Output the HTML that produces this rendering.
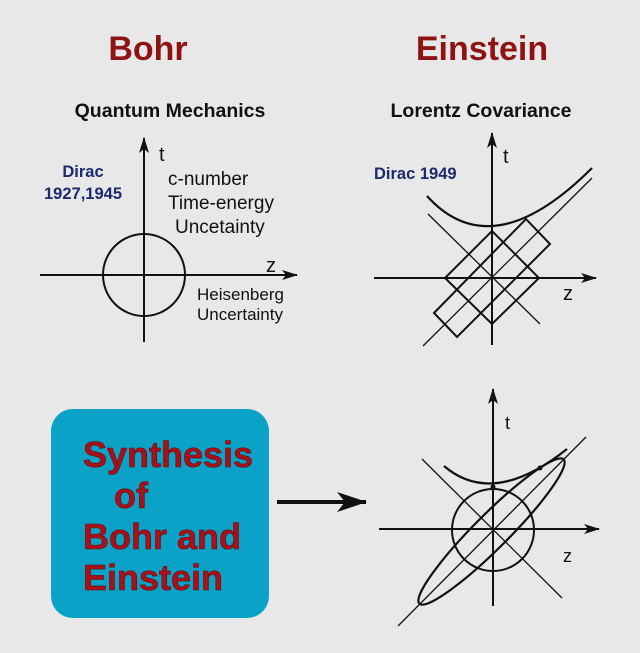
<!DOCTYPE html>
<html><head><meta charset="utf-8"><style>
html,body{margin:0;padding:0;background:#e8e8e8;}
</style></head><body>
<svg width="640" height="648" viewBox="0 0 640 648" xmlns="http://www.w3.org/2000/svg" font-family="Liberation Sans, sans-serif">
<defs><marker id="ah" markerWidth="16" markerHeight="10" refX="15" refY="5" orient="auto" markerUnits="userSpaceOnUse"><path d="M0,0 L16,5 L0,10 L4,5 Z" fill="#111"/></marker>
<marker id="ah2" markerWidth="30" markerHeight="20" refX="29" refY="10" orient="auto" markerUnits="userSpaceOnUse"><path d="M0,0 L30,10 L0,20 L8,10 Z" fill="#111"/></marker></defs>
<rect width="640" height="648" fill="#e8e8e8"/>
<text x="148" y="60" font-size="34" font-weight="bold" fill="#8e1414" text-anchor="middle">Bohr</text>
<text x="482" y="60" font-size="34" font-weight="bold" fill="#8e1414" text-anchor="middle">Einstein</text>
<text x="170" y="117" font-size="19.5" font-weight="bold" fill="#111" text-anchor="middle">Quantum Mechanics</text>
<text x="481" y="117" font-size="19.5" font-weight="bold" fill="#111" text-anchor="middle">Lorentz Covariance</text>
<!-- top left -->
<g stroke="#111" fill="none" stroke-width="2">
<line x1="144" y1="342" x2="144" y2="138" marker-end="url(#ah)"/>
<line x1="40" y1="275" x2="297" y2="275" marker-end="url(#ah)"/>
<circle cx="144" cy="275" r="41"/>
</g>
<text x="159" y="161" font-size="20" fill="#111">t</text>
<text x="266" y="272" font-size="20" fill="#111">z</text>
<text x="83" y="177" font-size="16.5" font-weight="bold" fill="#1c2a6e" text-anchor="middle">Dirac</text>
<text x="83" y="199" font-size="16.5" font-weight="bold" fill="#1c2a6e" text-anchor="middle">1927,1945</text>
<text x="168" y="185" font-size="19" fill="#111">c-number</text>
<text x="168" y="209" font-size="19" fill="#111">Time-energy</text>
<text x="175" y="233" font-size="19" fill="#111">Uncetainty</text>
<text x="197" y="300" font-size="17" fill="#111">Heisenberg</text>
<text x="197" y="320" font-size="17" fill="#111">Uncertainty</text>
<!-- top right -->
<g stroke="#111" fill="none">
<line x1="492" y1="345" x2="492" y2="133" stroke-width="2" marker-end="url(#ah)"/>
<line x1="374" y1="278" x2="596" y2="278" stroke-width="2" marker-end="url(#ah)"/>
<line x1="428" y1="214" x2="540" y2="324" stroke-width="1.3"/>
<line x1="423" y1="346" x2="592" y2="178" stroke-width="1.3"/>
<path d="M445,278 L492,231 L539,278 L492,324 Z" stroke-width="2"/>
<path d="M434,313 L526,219 L550,244 L457,337 Z" stroke-width="2"/>
<path d="M427,196 Q492,268 592,168" stroke-width="2.2"/>
</g>
<text x="503" y="163" font-size="20" fill="#111">t</text>
<text x="563" y="300" font-size="20" fill="#111">z</text>
<text x="374" y="179" font-size="16.5" font-weight="bold" fill="#1c2a6e">Dirac 1949</text>
<!-- box -->
<rect x="51" y="409" width="218" height="209" rx="22" fill="#0aa2c6"/>
<g font-size="36" font-weight="bold" fill="#a8101a" stroke="#6a0a0a" stroke-width="0.6">
<text x="83" y="467">Synthesis</text>
<text x="114" y="508">of</text>
<text x="83" y="549">Bohr and</text>
<text x="83" y="590">Einstein</text>
</g>
<line x1="277" y1="502" x2="366" y2="502" stroke="#111" stroke-width="4" marker-end="url(#ah2)"/>
<!-- bottom right -->
<g stroke="#111" fill="none">
<line x1="493" y1="606" x2="493" y2="389" stroke-width="2" marker-end="url(#ah)"/>
<line x1="379" y1="529" x2="599" y2="529" stroke-width="2" marker-end="url(#ah)"/>
<line x1="422" y1="459" x2="562" y2="598" stroke-width="1.3"/>
<line x1="398" y1="626" x2="586" y2="437" stroke-width="1.3"/>
<circle cx="493" cy="530" r="41" stroke-width="2"/>
<ellipse cx="491.5" cy="531.5" rx="102" ry="17" transform="rotate(-45 491.5 531.5)" stroke-width="2.2"/>
<path d="M444,466 Q493,508 567,449" stroke-width="2.2"/>
</g>
<circle cx="493" cy="487" r="2.5" fill="#111"/>
<circle cx="540" cy="468" r="2.5" fill="#111"/>
<text x="505" y="429" font-size="18" fill="#111">t</text>
<text x="563" y="562" font-size="18" fill="#111">z</text>
</svg>
</body></html>
